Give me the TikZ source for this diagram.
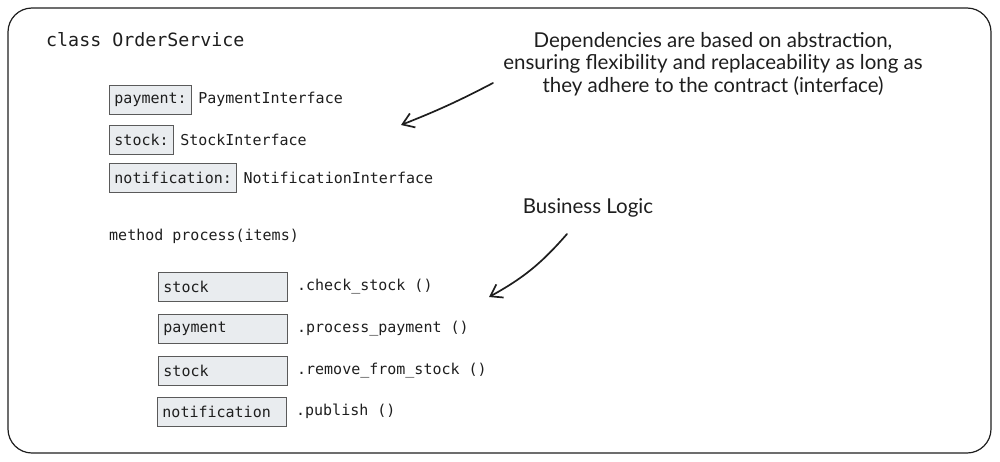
\documentclass[tikz,border=0pt]{standalone}
\usepackage{fontspec}
\setmainfont{Lato}
\setmonofont{DejaVu Sans Mono}
\usetikzlibrary{positioning,arrows.meta}
\definecolor{ink}{HTML}{1E1E1E}
\definecolor{boxfill}{HTML}{E9ECEF}
\definecolor{boxline}{HTML}{5A5A5A}
\begin{document}
\begin{tikzpicture}[x=1pt,y=1pt] % OrderService sketch
\tikzstyle{every node}+=[inner sep=0pt,text=ink]
\tikzstyle{code}=[font=\fontsize{15}{18}\selectfont\ttfamily,anchor=west]
\tikzstyle{field}=[code,draw=boxline,fill=boxfill,line width=0.9pt,inner xsep=5pt,minimum height=29pt]
\tikzstyle{callee}=[field,text width=119pt,align=left]
\tikzstyle{note}=[font=\fontsize{20.5}{22.5}\selectfont,align=center]
\tikzstyle{sketch}=[ink,line width=1.7pt,line cap=round,-{Straight Barb[length=11pt,width=15pt,line width=1.7pt]}]
\useasboundingbox (0,0) rectangle (1000,-461);
\draw [ink,line width=1.2pt,rounded corners=24pt] (8,-8) rectangle (991,-453);
\node [code,font=\fontsize{18.3}{22}\selectfont\ttfamily] (cls) at (46,-40) {class OrderService};
% fields
\node [field] (payF) at (109,-99.5) {payment:};
\node [code,right=6pt of payF] (payT) {PaymentInterface};
\node [field] (stockF) at (109,-139.5) {stock:};
\node [code,right=6pt of stockF] (stockT) {StockInterface};
\node [field] (noteF) at (109,-177.5) {notification:};
\node [code,right=6pt of noteF] (noteT) {NotificationInterface};
\node [code] (meth) at (109,-236) {method process(items)};
% calls
\node [callee] (c1) at (158,-287) {stock};
\node [code,right=9pt of c1] (m1) {.check\_stock ()};
\node [callee] (c2) at (158,-328.5) {payment};
\node [code,right=9pt of c2] (m2) {.process\_payment ()};
\node [callee] (c3) at (158,-370.5) {stock};
\node [code,right=9pt of c3] (m3) {.remove\_from\_stock ()};
\node [callee] (c4) at (157,-411.5) {notification};
\node [code,right=9pt of c4] (m4) {.publish ()};
% notes
\node [note] (deps) at (713,-64) {Dependencies are based on abstraction,\\ensuring flexibility and replaceability as long as\\they adhere to the contract (interface)};
\node [note] (biz) at (588,-208) {Business Logic};
\coordinate (depsTail) at (493,-83);
\coordinate (depsTip) at (401,-125);
\coordinate (bizTail) at (567,-234);
\coordinate (bizTip) at (489,-297);
\draw [sketch] (depsTail) to[bend left=3] (depsTip);
\draw [sketch] (bizTail) to[bend left=10] (bizTip);
\end{tikzpicture}
\end{document}
